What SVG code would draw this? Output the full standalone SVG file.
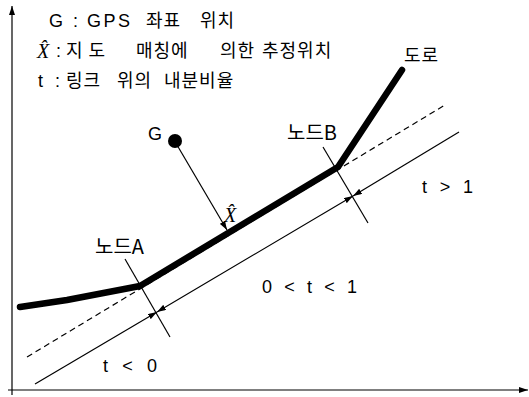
<svg xmlns="http://www.w3.org/2000/svg" width="529" height="397" viewBox="0 0 529 397">
<defs>
<marker id="ah" viewBox="0 0 9 6" refX="9" refY="3" markerWidth="9" markerHeight="6" markerUnits="userSpaceOnUse" orient="auto-start-reverse"><path d="M0,0 L9,3 L0,6 z" fill="#000"/></marker>
<style>
.t{font-family:"Liberation Sans","Noto Sans CJK KR",sans-serif;font-size:18px;fill:#000}
.k{font-family:"Noto Sans CJK KR","Liberation Sans",sans-serif;font-size:18px;letter-spacing:1px;fill:#000}
.n{font-family:"Noto Sans CJK KR","Liberation Sans",sans-serif;font-size:20px;fill:#000}
.m{font-family:"Liberation Serif","DejaVu Serif",serif;font-style:italic;font-size:20px;fill:#000}
.thin{stroke:#000;stroke-width:1.2;fill:none}
.road{stroke:#000;stroke-width:6.5;fill:none;stroke-linecap:round;stroke-linejoin:round}
</style>
</defs>
<g id="axes">
<line class="thin" x1="12" y1="395" x2="12" y2="6" stroke-width="1.6" marker-end="url(#ah)"/>
<line class="thin" x1="8" y1="390" x2="528" y2="390" stroke-width="1.6" marker-end="url(#ah)"/>
</g>
<g id="legend">
<text class="t" x="49" y="27">G</text><text class="t" x="73" y="27">:</text><text class="t" x="87" y="27" textLength="43" lengthAdjust="spacing">GPS</text>
<text class="k" x="146" y="27">좌표</text><text class="k" x="200" y="27">위치</text>
<text class="m" x="37" y="58">X&#x302;</text><text class="t" x="56" y="57">:</text>
<text class="k" x="66" y="57">지 도</text><text class="k" x="136" y="57">매칭에</text><text class="k" x="220" y="57">의한</text><text class="k" x="262" y="57">추정위치</text>
<text class="t" x="38" y="87">t</text><text class="t" x="55" y="87">:</text>
<text class="k" x="66" y="87">링크</text><text class="k" x="117" y="87">위의</text><text class="k" x="164" y="87">내분비율</text>
</g>
<g id="connectors">
<line class="thin" x1="27" y1="357" x2="445" y2="105" stroke-dasharray="6,4"/>
<line class="thin" x1="35" y1="384" x2="157" y2="312" marker-end="url(#ah)"/>
<line class="thin" x1="157" y1="312" x2="353" y2="196" marker-start="url(#ah)" marker-end="url(#ah)"/>
<line class="thin" x1="459" y1="132" x2="353" y2="196" marker-end="url(#ah)"/>
<line class="thin" x1="125" y1="259" x2="170" y2="337"/>
<line class="thin" x1="323" y1="147" x2="368" y2="223"/>
<line class="thin" x1="177" y1="145" x2="227" y2="230" marker-end="url(#ah)"/>
</g>
<g id="road">
<polyline class="road" points="20,307 67,300 140,286 338,167 402,70"/>
<text class="k" x="404" y="62" font-size="20" letter-spacing="2">도로</text>
</g>
<g id="nodeA"><text class="n" x="95" y="254">노드A</text></g>
<g id="nodeB"><text class="n" x="287" y="140">노드B</text></g>
<g id="G"><circle cx="175" cy="141" r="7" fill="#000"/><text class="t" x="148" y="140">G</text></g>
<g id="Xhat"><text class="m" x="224" y="222" font-size="22">X&#x302;</text></g>
<g id="labels">
<text class="t" x="422" y="193" textLength="51" lengthAdjust="spacing">t &gt; 1</text>
<text class="t" x="262" y="293" textLength="95" lengthAdjust="spacing">0 &lt; t &lt; 1</text>
<text class="t" x="103" y="372" textLength="54" lengthAdjust="spacing">t &lt; 0</text>
</g>
</svg>
